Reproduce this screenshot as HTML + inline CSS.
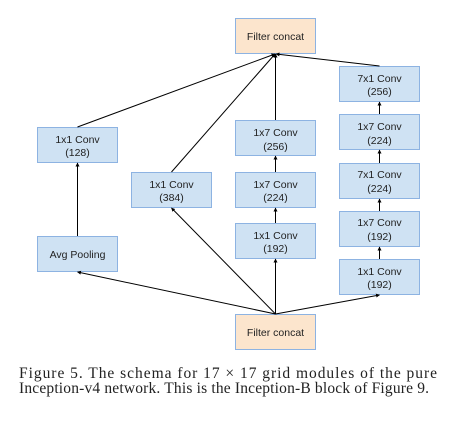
<!DOCTYPE html>
<html><head><meta charset="utf-8"><style>
html,body{margin:0;padding:0;background:#fff;}
svg{display:block;}
.b{fill:#cfe2f3;stroke:#8db3e2;stroke-width:1;}
.p{fill:#fce5cd;stroke:#8db3e2;stroke-width:1;}
.t{font-family:"Liberation Sans",sans-serif;font-size:10.5px;fill:#222;text-anchor:middle;}
.c{font-family:"Liberation Serif",serif;font-size:15.5px;fill:#222;}
line{stroke:#000;stroke-width:1;}
</style></head><body>
<svg width="453" height="425" viewBox="0 0 453 425" xmlns="http://www.w3.org/2000/svg">
<defs><marker id="a" markerWidth="4" markerHeight="4" refX="3.5" refY="2" orient="auto" markerUnits="userSpaceOnUse"><path d="M0,0 L4,2 L0,4 z" fill="#000"/></marker></defs>
<rect class="p" x="235.5" y="18.5" width="80" height="35"/>
<text class="t" x="275.5" y="40">Filter concat</text>
<rect class="p" x="235.5" y="314.5" width="80" height="35"/>
<text class="t" x="275.5" y="336">Filter concat</text>

<rect class="b" x="37.5" y="127.5" width="80" height="35"/>
<text class="t" x="77.5" y="143">1x1 Conv</text><text class="t" x="77.5" y="156">(128)</text>
<rect class="b" x="37.5" y="236.5" width="80" height="35"/>
<text class="t" x="77.5" y="258">Avg Pooling</text>
<rect class="b" x="131.5" y="172.5" width="80" height="35"/>
<text class="t" x="171.5" y="188">1x1 Conv</text><text class="t" x="171.5" y="201">(384)</text>

<rect class="b" x="235.5" y="120.5" width="80" height="35"/>
<text class="t" x="275.5" y="136">1x7 Conv</text><text class="t" x="275.5" y="150">(256)</text>
<rect class="b" x="235.5" y="172.5" width="80" height="35"/>
<text class="t" x="275.5" y="188">1x7 Conv</text><text class="t" x="275.5" y="201">(224)</text>
<rect class="b" x="235.5" y="223.5" width="80" height="35"/>
<text class="t" x="275.5" y="239">1x1 Conv</text><text class="t" x="275.5" y="252">(192)</text>

<rect class="b" x="339.5" y="66.5" width="80" height="35"/>
<text class="t" x="379.5" y="82">7x1 Conv</text><text class="t" x="379.5" y="95">(256)</text>
<rect class="b" x="339.5" y="114.5" width="80" height="35"/>
<text class="t" x="379.5" y="130">1x7 Conv</text><text class="t" x="379.5" y="144">(224)</text>
<rect class="b" x="339.5" y="163.5" width="80" height="35"/>
<text class="t" x="379.5" y="178">7x1 Conv</text><text class="t" x="379.5" y="192">(224)</text>
<rect class="b" x="339.5" y="211.5" width="80" height="35"/>
<text class="t" x="379.5" y="226">1x7 Conv</text><text class="t" x="379.5" y="240">(192)</text>
<rect class="b" x="339.5" y="259.5" width="80" height="35"/>
<text class="t" x="379.5" y="275">1x1 Conv</text><text class="t" x="379.5" y="288">(192)</text>

<line x1="77.5" y1="127" x2="275" y2="54" marker-end="url(#a)"/>
<line x1="171.5" y1="172" x2="275" y2="54" marker-end="url(#a)"/>
<line x1="275.5" y1="120" x2="275.5" y2="54" marker-end="url(#a)"/>
<line x1="379.5" y1="66" x2="276" y2="54" marker-end="url(#a)"/>
<line x1="77.5" y1="236" x2="77.5" y2="163" marker-end="url(#a)"/>
<line x1="275.5" y1="172" x2="275.5" y2="156" marker-end="url(#a)"/>
<line x1="275.5" y1="223" x2="275.5" y2="208" marker-end="url(#a)"/>
<line x1="379.5" y1="114" x2="379.5" y2="102" marker-end="url(#a)"/>
<line x1="379.5" y1="163" x2="379.5" y2="150" marker-end="url(#a)"/>
<line x1="379.5" y1="211" x2="379.5" y2="199" marker-end="url(#a)"/>
<line x1="379.5" y1="259" x2="379.5" y2="247" marker-end="url(#a)"/>
<line x1="275.5" y1="314" x2="77.5" y2="272" marker-end="url(#a)"/>
<line x1="275.5" y1="314" x2="171.5" y2="208" marker-end="url(#a)"/>
<line x1="275.5" y1="314" x2="275.5" y2="259" marker-end="url(#a)"/>
<line x1="275.5" y1="314" x2="379.5" y2="295" marker-end="url(#a)"/>

<text class="c" x="19" y="378" textLength="418" lengthAdjust="spacing">Figure 5. The schema for 17 × 17 grid modules of the pure</text>
<text class="c" x="19" y="393" textLength="410" lengthAdjust="spacing">Inception-v4 network. This is the Inception-B block of Figure 9.</text>
</svg>
</body></html>
